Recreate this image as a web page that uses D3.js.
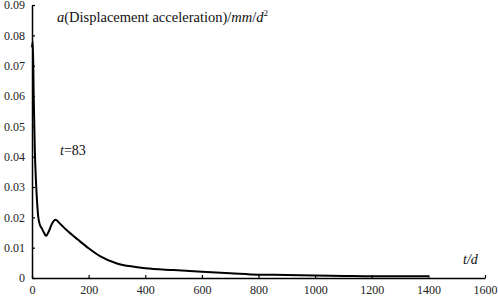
<!DOCTYPE html>
<html>
<head>
<meta charset="utf-8">
<script src="https://cdn.jsdelivr.net/npm/d3@7/dist/d3.min.js"></script>
</head>
<body style="margin:0;background:#fff">
<div id="chart"></div>
<script>
const days = [0, 3, 6, 10, 14, 18, 22, 28, 34, 42, 49, 60, 70, 83, 100, 122, 164, 200, 240, 300, 360, 400, 500, 600, 700, 800, 900, 1000, 1100, 1200, 1300, 1400];
const accel = [0.076, 0.078, 0.06, 0.042, 0.032, 0.025, 0.0202, 0.0175, 0.0165, 0.015, 0.0139, 0.0155, 0.0178, 0.0192, 0.0178, 0.0158, 0.0125, 0.0098, 0.0072, 0.0048, 0.0037, 0.0032, 0.0026, 0.0021, 0.0016, 0.0011, 0.001, 0.0008, 0.0007, 0.0006, 0.0006, 0.0006];
const xTicks = [0, 200, 400, 600, 800, 1000, 1200, 1400, 1600];
const yTicks = [0, 0.01, 0.02, 0.03, 0.04, 0.05, 0.06, 0.07, 0.08, 0.09];

const serif = "Liberation Serif";
const width = 498, height = 298;
const svg = d3.select("#chart").append("svg")
  .attr("width", width)
  .attr("height", height)
  .style("display", "block");

const x = d3.scaleLinear().domain([0, 1600]).range([32, 485]);
const y = d3.scaleLinear().domain([0, 0.09]).range([278, 5]);

// y axis, ticks pointing inward
const yAxis = svg.append("g")
  .attr("transform", `translate(${x(0)},0)`)
  .attr("font-family", serif)
  .call(d3.axisRight(y).tickValues(yTicks).tickSize(3).tickSizeOuter(0)
    .tickFormat(d => d === 0 ? "0" : d3.format(".2f")(d)));
yAxis.attr("font-family", serif);
yAxis.select(".domain").attr("stroke", "#000").attr("stroke-width", 1.5);
yAxis.selectAll(".tick line").attr("stroke", "#000").attr("stroke-width", 1.2);
yAxis.selectAll(".tick text")
  .attr("x", -7)
  .attr("text-anchor", "end")
  .attr("font-family", serif)
  .attr("font-size", 12)
  .attr("fill", "#222");

// x axis, ticks pointing up
const xAxis = svg.append("g")
  .attr("transform", `translate(0,${y(0)})`)
  .call(d3.axisTop(x).tickValues(xTicks).tickSize(3).tickSizeOuter(0)
    .tickFormat(d3.format("d")));
xAxis.attr("font-family", serif);
xAxis.select(".domain").attr("stroke", "#000").attr("stroke-width", 1.5);
xAxis.selectAll(".tick line").attr("stroke", "#000").attr("stroke-width", 1.2);
xAxis.selectAll(".tick text")
  .attr("y", 16)
  .attr("dy", 0)
  .attr("font-family", serif)
  .attr("font-size", 12)
  .attr("fill", "#222");

const line = d3.line()
  .x((d, i) => x(days[i]))
  .y(d => y(d))
  .curve(d3.curveMonotoneX);

svg.append("path")
  .datum(accel)
  .attr("fill", "none")
  .attr("stroke", "#000")
  .attr("stroke-width", 2)
  .attr("stroke-linejoin", "round")
  .attr("d", line);

// title label
const title = svg.append("text")
  .attr("x", 57)
  .attr("y", 22)
  .attr("font-family", serif)
  .attr("font-size", 14.5)
  .attr("fill", "#111");
title.append("tspan").attr("font-style", "italic").text("a");
title.append("tspan").text("(Displacement acceleration)/");
title.append("tspan").attr("font-style", "italic").text("mm");
title.append("tspan").text("/");
title.append("tspan").attr("font-style", "italic").text("d");
title.append("tspan").attr("font-size", 9).attr("dy", -6).text("2");

const ann = svg.append("text")
  .attr("x", 60)
  .attr("y", 155)
  .attr("font-family", serif)
  .attr("font-size", 14)
  .attr("fill", "#111");
ann.append("tspan").attr("font-style", "italic").text("t");
ann.append("tspan").text("=83");

svg.append("text")
  .attr("x", 463)
  .attr("y", 264)
  .attr("font-family", serif)
  .attr("font-size", 14)
  .attr("font-style", "italic")
  .attr("fill", "#111")
  .text("t/d");
</script>
</body>
</html>
